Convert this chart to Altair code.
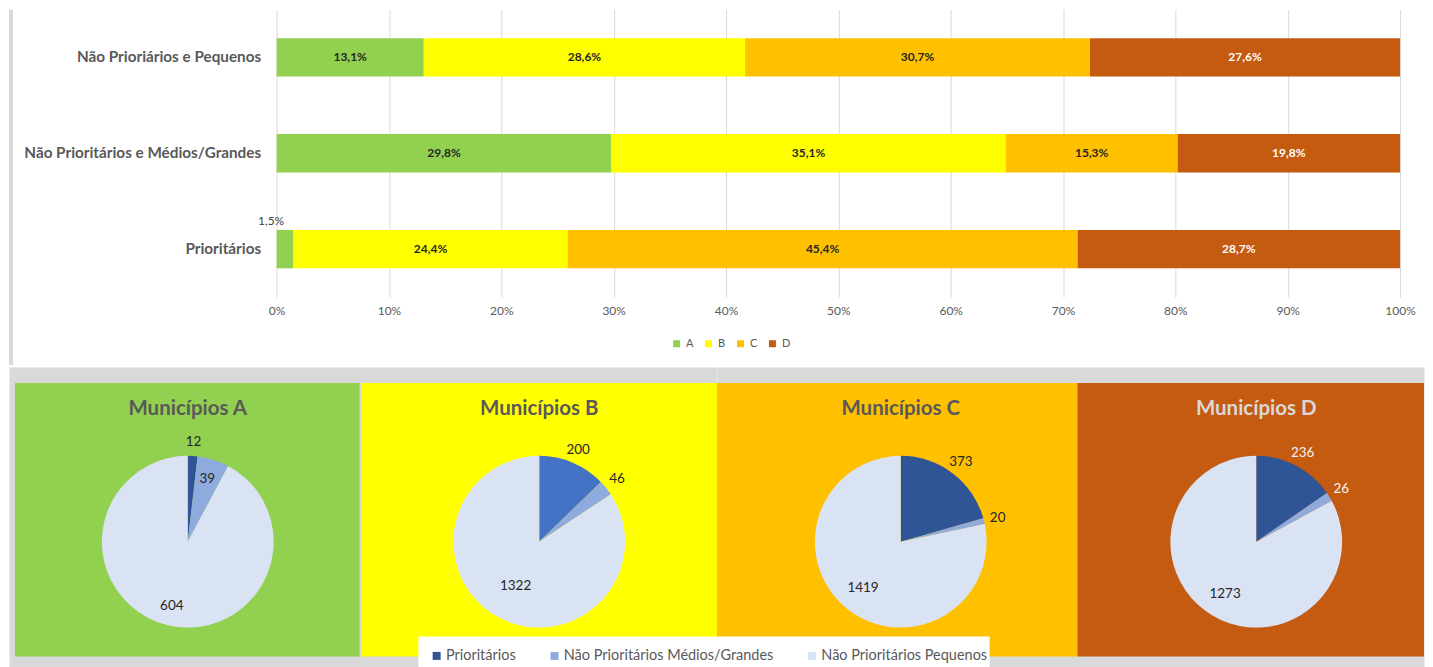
import json
import altair as alt
import pandas as pd

# ---------------- dados ----------------
grupos = ["Não Prioriários e Pequenos", "Não Prioritários e Médios/Grandes", "Prioritários"]
classes = ["A", "B", "C", "D"]
pct_pequenos = [13.1, 28.6, 30.7, 27.6]
pct_medios_grandes = [29.8, 35.1, 15.3, 19.8]
pct_prioritarios = [1.5, 24.4, 45.4, 28.7]
ticks_x = [0, 10, 20, 30, 40, 50, 60, 70, 80, 90, 100]

categorias_pizza = ["Prioritários", "Não Prioritários Médios/Grandes", "Não Prioritários Pequenos"]
municipios_A = [12, 39, 604]
municipios_B = [200, 46, 1322]
municipios_C = [373, 20, 1419]
municipios_D = [236, 26, 1273]

# ---------------- estilos ----------------
cores_classes = ["#92D050", "#FFFF00", "#FFC000", "#C55A11"]
CINZA = "#D9D9D9"
TEXTO = "#595959"
ESCURO = "#262626"
FONTE = "Lato"

LARGURA_EIXO = 268      # space reserved for category labels (inside the plot)
LARGURA_BARRAS = 1125   # width of the 0-100% span
dom_min = -LARGURA_EIXO / LARGURA_BARRAS * 100

# ---------------- barras empilhadas ----------------
rows = []
for g, vals in zip(grupos, [pct_pequenos, pct_medios_grandes, pct_prioritarios]):
    for i, (c, v) in enumerate(zip(classes, vals)):
        rows.append({"grupo": g, "classe": c, "ordem": i, "valor": v,
                     "rotulo": f"{v:.1f}".replace(".", ",") + "%"})
df_barras = pd.DataFrame(rows)

base = alt.Chart(df_barras).transform_stack(
    stack="valor", groupby=["grupo"], as_=["x0", "x1"],
    sort=[alt.SortField("ordem", order="ascending")]
).transform_calculate(meio="(datum.x0 + datum.x1) / 2")

x_scale = alt.Scale(domain=[dom_min, 100], nice=False, zero=False)
y_enc = alt.Y("grupo:N", sort=grupos,
              scale=alt.Scale(paddingInner=0.6, paddingOuter=0.3),
              axis=alt.Axis(title=None, labelFont=FONTE, labelFontSize=15.3, labelFontWeight="bold",
                            labelColor=TEXTO, labelPadding=16, ticks=False, domain=False,
                            offset=-LARGURA_EIXO, labelLimit=400))

barras = base.mark_bar().encode(
    x=alt.X("x0:Q", scale=x_scale,
            axis=alt.Axis(values=ticks_x, labelExpr="datum.value + '%'", title=None, grid=True,
                          gridColor=CINZA, gridWidth=1, domain=False, ticks=False, tickSize=0,
                          labelFlush=False, labelColor=TEXTO, labelFontSize=12, labelFont=FONTE,
                          labelPadding=8)),
    x2="x1:Q",
    y=y_enc,
    color=alt.Color("classe:N", scale=alt.Scale(domain=classes, range=cores_classes),
                    legend=alt.Legend(title=None, orient="none", legendX=663, legendY=329,
                                      direction="horizontal", symbolType="square", symbolSize=49,
                                      symbolStrokeWidth=0, labelFont=FONTE, labelFontSize=11,
                                      labelColor=TEXTO, columnPadding=9, labelOffset=4, padding=0)),
)

rotulos = base.transform_filter("datum.valor >= 5").mark_text(
    font=FONTE, fontSize=12, fontWeight="bold"
).encode(
    x=alt.X("meio:Q", scale=x_scale),
    y=alt.Y("grupo:N", sort=grupos),
    text="rotulo:N",
    color=alt.condition("datum.classe == 'D'", alt.value("#FFFFFF"), alt.value(ESCURO)),
)

rotulo_pequeno = base.transform_filter("datum.valor < 5").mark_text(
    font=FONTE, fontSize=12, color="#404040", dy=-28, dx=-14
).encode(
    x=alt.X("meio:Q", scale=x_scale),
    y=alt.Y("grupo:N", sort=grupos),
    text="rotulo:N",
)

borda = alt.Chart(pd.DataFrame({"k": [0]})).mark_rect(color=CINZA).encode(
    x=alt.value(0), x2=alt.value(4), y=alt.value(0), y2=alt.value(356)
)

grafico_barras = alt.layer(borda, barras, rotulos, rotulo_pequeno).properties(
    width=LARGURA_EIXO + LARGURA_BARRAS, height=288)


# ---------------- pizzas ----------------
ALTURA = 301


def painel(letra, valores, largura, cx, fx0, fx1, cor_fundo, cor_prior, cor_titulo, cor_ext,
           externos, r_int, legenda=None, extra=None):
    df = pd.DataFrame({"categoria": categorias_pizza, "valor": valores, "ordem": [0, 1, 2]})
    b = alt.Chart(df)
    fundo = alt.Chart(pd.DataFrame({"k": [0]})).mark_rect(color=cor_fundo).encode(
        x=alt.value(fx0), x2=alt.value(fx1), y=alt.value(16), y2=alt.value(290))
    titulo = alt.Chart(pd.DataFrame({"t": [f"Municípios {letra}"]})).mark_text(
        font=FONTE, fontSize=20.5, fontWeight="bold", color=cor_titulo
    ).encode(text="t:N", x=alt.value(cx), y=alt.value(42))
    theta = alt.Theta("valor:Q", stack=True)
    ordem = alt.Order("ordem:Q")
    arcos = b.mark_arc(outerRadius=86).encode(
        theta=theta, order=ordem,
        color=alt.Color("categoria:N",
                        scale=alt.Scale(domain=categorias_pizza,
                                        range=[cor_prior, "#8FAADC", "#DAE3F3"]),
                        legend=legenda),
        x=alt.value(cx), y=alt.value(175),
    )
    teste = "indexof(" + json.dumps(externos, ensure_ascii=False) + ", datum.categoria) >= 0"
    ext = b.mark_text(radius=100, font=FONTE, fontSize=13.5, color=cor_ext).encode(
        theta=theta, order=ordem,
        text=alt.condition(teste, "valor:Q", alt.value("")),
        x=alt.value(cx), y=alt.value(175),
    )
    inn = b.mark_text(radius=r_int, font=FONTE, fontSize=13.5, color=ESCURO).encode(
        theta=theta, order=ordem,
        text=alt.condition(teste, alt.value(""), "valor:Q"),
        x=alt.value(cx), y=alt.value(175),
    )
    camadas = [fundo, titulo, arcos, ext, inn]
    if extra is not None:
        camadas.append(extra)
    return alt.layer(*camadas).properties(
        width=largura, height=ALTURA,
        view=alt.ViewBackground(fill=CINZA, stroke="transparent"),
    )


# white box of the shared legend (drawn in panel C, reaching into panel B)
caixa_legenda = alt.Chart(pd.DataFrame({"k": [0]})).mark_rect(color="#FFFFFF").encode(
    x=alt.value(-299), x2=alt.value(273), y=alt.value(270), y2=alt.value(ALTURA))

legenda_pizza = alt.Legend(title=None, orient="none", legendX=-288, legendY=282,
                           direction="horizontal", padding=0,
                           symbolType="square", symbolSize=64, symbolStrokeWidth=0,
                           labelFont=FONTE, labelFontSize=14.5, labelColor=TEXTO,
                           columnPadding=31, labelOffset=2, labelLimit=400)

pA = painel("A", municipios_A, 352, 179, 6, 351, "#92D050", "#2F5597", TEXTO, ESCURO,
            ["Prioritários"], 66, legenda=None)
pB = painel("B", municipios_B, 357, 179, 1, 357, "#FFFF00", "#4472C4", TEXTO, ESCURO,
            ["Prioritários", "Não Prioritários Médios/Grandes"], 50, legenda=None)
pC = painel("C", municipios_C, 361, 184, 0, 361, "#FFC000", "#2F5597", TEXTO, ESCURO,
            ["Prioritários", "Não Prioritários Médios/Grandes"], 60, legenda=legenda_pizza,
            extra=caixa_legenda)
pD = painel("D", municipios_D, 347, 179, 0, 347, "#C55A11", "#2F5597", "#D9D9D9", "#F2F2F2",
            ["Prioritários", "Não Prioritários Médios/Grandes"], 61, legenda=None)

linha_pizzas = alt.hconcat(pA, pB, pC, pD, spacing=0, bounds="flush").resolve_scale(color="independent")

chart = alt.vconcat(grafico_barras, linha_pizzas, spacing=0).resolve_scale(
    color="independent"
).properties(padding=0, background="#FFFFFF").configure(font=FONTE).configure_view(stroke="transparent")

chart.save("out.html", embed_options={"renderer": "svg", "actions": False})
